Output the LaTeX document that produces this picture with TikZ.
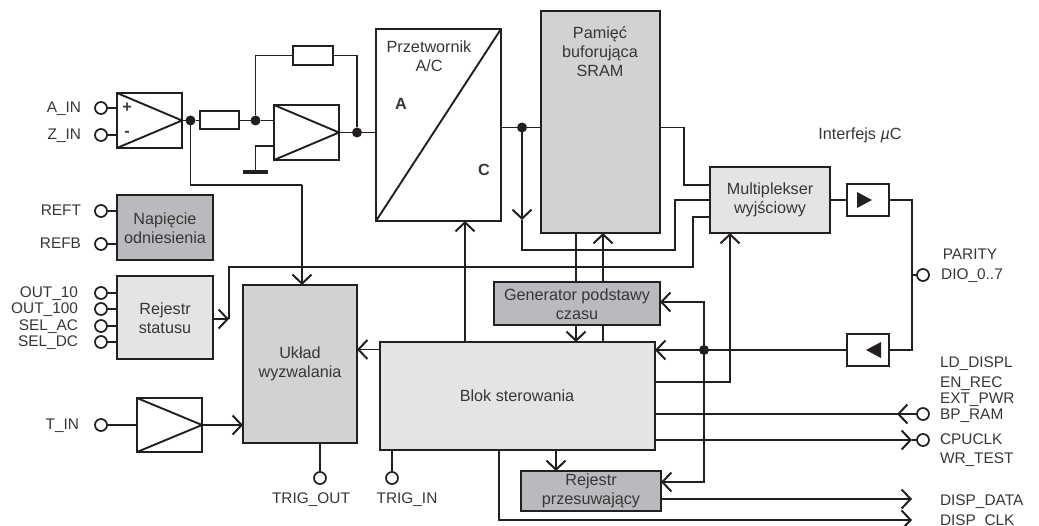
\documentclass[tikz,border=0pt]{standalone}
\usepackage{fontspec}
\setmainfont{Liberation Sans}
\usetikzlibrary{arrows.meta}
\definecolor{ink}{HTML}{231F20}
\definecolor{lgray}{HTML}{E3E4E6}
\definecolor{mgray}{HTML}{D1D2D4}
\definecolor{dgray}{HTML}{B9BABD}
\newcommand{\bx}[7]{\node[blk,#6,minimum width={(#4-#2)*1pt},minimum height={(#5-#3)*1pt}] (#1) at ({(#2+#4)/2},{(#3+#5)/2}) {#7};}
\tikzset{
  x=1pt,y=-1pt,
  every node/.style={font=\fontsize{16.2}{19}\selectfont,text=ink!90,inner sep=0pt,outer sep=0pt},
  blk/.style={draw=ink,line width=1.9pt,align=center},
  wire/.style={draw=ink,line width=1.9pt,line join=miter},
  arr/.style={wire,-{Straight Barb[length=9pt,width=19pt,line width=2pt]}},
  pin/.style={circle,draw=ink,line width=1.7pt,fill=white,minimum size=12pt},
  dotn/.style={circle,fill=ink,minimum size=10pt},
  sig/.style={font=\fontsize{15.4}{19}\selectfont},
  lab/.style={sig,anchor=base east},
  labr/.style={sig,anchor=base west},
  labc/.style={sig,anchor=base},
  amp/.style={fill=white},
  lg/.style={fill=lgray},
  mg/.style={fill=mgray},
  dg/.style={fill=dgray},
  wh/.style={fill=white},
}
\begin{document}
\begin{tikzpicture}
\useasboundingbox (0,0) rectangle (1039,526);
% blocks
\bx{amp1}{117}{93}{182}{148}{amp}{}
\bx{amp2}{274}{105}{339}{160}{amp}{}
\bx{amp3}{137}{398}{202}{452}{amp}{}
\bx{r1}{200}{111}{239}{129}{wh}{}
\bx{r2}{293}{46}{333}{65}{wh}{}
\bx{adc}{376}{29}{501}{221}{wh}{}
\bx{sram}{541}{11}{660}{233}{mg}{}
\bx{ref}{117}{195}{213}{260}{dg}{}
\bx{stat}{117}{276}{213}{359}{lg}{}
\bx{trig}{243}{285}{357}{443}{mg}{}
\bx{gen}{494}{282}{660}{325}{dg}{}
\bx{ctl}{380}{342}{655}{450}{lg}{}
\bx{shift}{521}{471}{661}{511}{dg}{}
\bx{mux}{710}{167}{830}{233}{lg}{}
\bx{bo}{847}{184}{889}{216}{wh}{}
\bx{bi}{847}{334}{889}{366}{wh}{}
% texts inside blocks
\node (tsram) at (600,52) [align=center] {Pamięć\\buforująca\\SRAM};
\node (tref) at (165,228) [align=center] {Napięcie\\odniesienia};
\node (tstat) at (165,318) [align=center] {Rejestr\\statusu};
\node (ttrig) at (300,364) [align=center] {Układ\\wyzwalania};
\node (tgen) at (577,304) [align=center] {Generator podstawy\\czasu};
\node (tctl) at (517,396) {Blok sterowania};
\node (tshift) at (591,491) [align=center] {Rejestr\\przesuwający};
\node (tmux) at (770,200) [align=center] {Multiplekser\\wyjściowy};
\node (tadc) at (429,56) [align=center] {Przetwornik\\A/C};
\node (ta) at (401,104) {\bfseries A};
\node (tc) at (484,170) {\bfseries C};
\node (tplus) at (127,108) {\bfseries +};
\node (tminus) at (127,134) {\bfseries -};
% internal marks
\draw[wire] (amp1.north west) -- (amp1.east) -- (amp1.south west);
\draw[wire] (amp2.north west) -- (amp2.east) -- (amp2.south west);
\draw[wire] (amp3.north west) -- (amp3.east) -- (amp3.south west);
\draw[wire] (adc.south west) -- (adc.north east);
\coordinate (bot1) at (857,192); \coordinate (bot2) at (857,208); \coordinate (bot3) at (872,200);
\fill[ink] (bot1) -- (bot2) -- (bot3) -- cycle;
\coordinate (bit1) at (881,342); \coordinate (bit2) at (881,358); \coordinate (bit3) at (866,350);
\fill[ink] (bit1) -- (bit2) -- (bit3) -- cycle;
% pins and dots
\foreach \n/\y in {pA/108,pZ/135,pREFT/211,pREFB/244,pO1/293,pO2/309,pS1/326,pS2/342,pT/425}
  \node[pin] (\n) at (101,\y) {};
\node[pin] (pTO) at (320,478) {};
\node[pin] (pTI) at (392,478) {};
\node[pin] (pD) at (923,275) {};
\coordinate (cD) at (912,275);
\node[dotn] (d1) at (190.5,120.5) {};
\node[dotn] (d2) at (255.5,120.5) {};
\node[dotn] (d3) at (357,132.5) {};
\node[dotn] (d4) at (522,127.5) {};
\node[dotn] (d5) at (704,350) {};
% input wires
\draw[wire] (pA) -- (pA -| amp1.west);
\draw[wire] (pZ) -- (pZ -| amp1.west);
\draw[wire] (pREFT) -- (pREFT -| ref.west);
\draw[wire] (pREFB) -- (pREFB -| ref.west);
\draw[wire] (pO1) -- (pO1 -| stat.west);
\draw[wire] (pO2) -- (pO2 -| stat.west);
\draw[wire] (pS1) -- (pS1 -| stat.west);
\draw[wire] (pS2) -- (pS2 -| stat.west);
\draw[wire] (pT) -- (amp3.west);
\draw[arr] (amp3.east) -- (amp3.east -| trig.west);
% analog chain
\draw[wire] (amp1.east) -- (d1) -- (d1 -| r1.west);
\draw[wire] (d2 -| r1.east) -- (d2) -- (d2 -| amp2.west);
\draw[wire] (d2) |- (r2.west);
\draw[wire] (r2.east) -| (d3);
\draw[wire] (amp2.east) -- (d3) -- (d3 -| adc.west);
\coordinate (gnd) at (255.5,172);
\coordinate (gndi) at (274,146);
\draw[wire] (gndi) -| (gnd);
\coordinate (gl) at (243,172); \coordinate (gr) at (268,172);
\draw[ink,line width=4.5pt] (gl) -- (gr);
\coordinate (k1) at (190.5,185);
\coordinate (k2) at (302,185);
\draw[wire] (d1) -- (k1) -- (k2);
\draw[arr] (k2) -- (k2 |- trig.north);
% trigger
\draw[wire] (pTO) -- (pTO |- trig.south);
\draw[wire] (pTI) -- (pTI |- ctl.south);
\coordinate (c349) at (380,349.5);
\draw[arr] (c349) -- (c349 -| trig.east);
\coordinate (ca) at (465,342);
\draw[arr] (ca) -- (ca |- adc.south);
% sram
\draw[wire] (adc.east |- d4) -- (d4) -- (d4 -| sram.west);
\coordinate (dn) at (522,220);
\draw[arr] (d4) -- (dn);
\coordinate (a1) at (522,250); \coordinate (a2) at (675,250); \coordinate (a3) at (675,200);
\draw[wire] (dn) -- (a1) -- (a2) -- (a3) -- (a3 -| mux.west);
\coordinate (b1) at (660,127.5); \coordinate (b2) at (684,127.5); \coordinate (b3) at (684,185);
\draw[wire] (b1) -- (b2) -- (b3) -- (b3 -| mux.west);
% status line
\coordinate (s1) at (229,319); \coordinate (s2) at (229,267); \coordinate (s3) at (693,267); \coordinate (s4) at (693,217);
\draw[arr] (s1 -| stat.east) -- (s1);
\draw[wire] (s1) -- (s2) -- (s3) -- (s4) -- (s4 -| mux.west);
% generator
\coordinate (g1) at (576,282);
\draw[wire] (g1) -- (g1 |- sram.south);
\coordinate (g2) at (603,282);
\draw[arr] (g2) -- (g2 |- sram.south);
\coordinate (g3) at (576,325);
\draw[arr] (g3) -- (g3 |- ctl.north);
\coordinate (g4) at (603,325);
\draw[wire] (g4) -- (g4 |- ctl.north);
% right side
\draw[wire] (mux.east |- bo.west) -- (bo.west);
\coordinate (v1) at (912,200); \coordinate (v2) at (912,350);
\draw[wire] (bo.east) -- (v1) -- (v2) -- (bi.east);
\draw[wire] (cD) -- (pD);
\draw[arr] (bi.west) -- (bi.west -| ctl.east);
\coordinate (e1) at (704,302); \coordinate (e2) at (704,482);
\draw[arr] (d5) -- (e1) -- (e1 -| gen.east);
\draw[arr] (d5) -- (e2) -- (e2 -| shift.east);
\coordinate (m1) at (655,382); \coordinate (m2) at (730,382);
\draw[arr] (m1) -- (m2) -- (m2 |- mux.south);
\coordinate (pBc) at (923,414);
\coordinate (pCc) at (923,440);
\coordinate (bt) at (897,414);
\draw[wire] (pBc -| ctl.east) -- (pBc);
\draw[arr] (pBc) -- (bt);
\coordinate (ct) at (912,440);
\draw[arr] (pCc -| ctl.east) -- (ct);
\draw[wire] (ct) -- (pCc);
\node[pin] (pB) at (pBc) {};
\node[pin] (pC) at (pCc) {};
% shift register
\coordinate (h1) at (556,450); \coordinate (h2) at (556,471);
\draw[arr] (h1) -- (h2);
\coordinate (i1) at (912,499);
\draw[arr] (i1 -| shift.east) -- (i1);
\coordinate (j0) at (499,450); \coordinate (j1) at (499,520); \coordinate (j2) at (912,520);
\draw[arr] (j0) -- (j1) -- (j2);
% labels
\node[lab] (lA) at (81,113) {A\_IN};
\node[lab] (lZ) at (81,140) {Z\_IN};
\node[lab] (lRT) at (81,216) {REFT};
\node[lab] (lRB) at (81,249) {REFB};
\node[lab] (l1) at (78,298) {OUT\_10};
\node[lab] (l2) at (78,314) {OUT\_100};
\node[lab] (l3) at (78,331) {SEL\_AC};
\node[lab] (l4) at (78,347) {SEL\_DC};
\node[lab] (lT) at (79,430) {T\_IN};
\node[labc] (lTO) at (311,503) {TRIG\_OUT};
\node[labc] (lTI) at (407,503) {TRIG\_IN};
\node (lI) at (860,140) [anchor=base] {Interfejs {\itshape µ}C};
\node[labc] (lP) at (970,260) {PARITY};
\node[labc] (lDIO) at (972,280) {DIO\_0..7};
\node[labr] (r1t) at (940,368) {LD\_DISPL};
\node[labr] (r2t) at (940,388) {EN\_REC};
\node[labr] (r3t) at (940,404) {EXT\_PWR};
\node[labr] (r4t) at (940,420) {BP\_RAM};
\node[labr] (r5t) at (940,445) {CPUCLK};
\node[labr] (r6t) at (940,464) {WR\_TEST};
\node[labr] (r7t) at (940,505) {DISP\_DATA};
\node[labr] (r8t) at (940,525.5) {DISP\_CLK};
\end{tikzpicture}
\end{document}
